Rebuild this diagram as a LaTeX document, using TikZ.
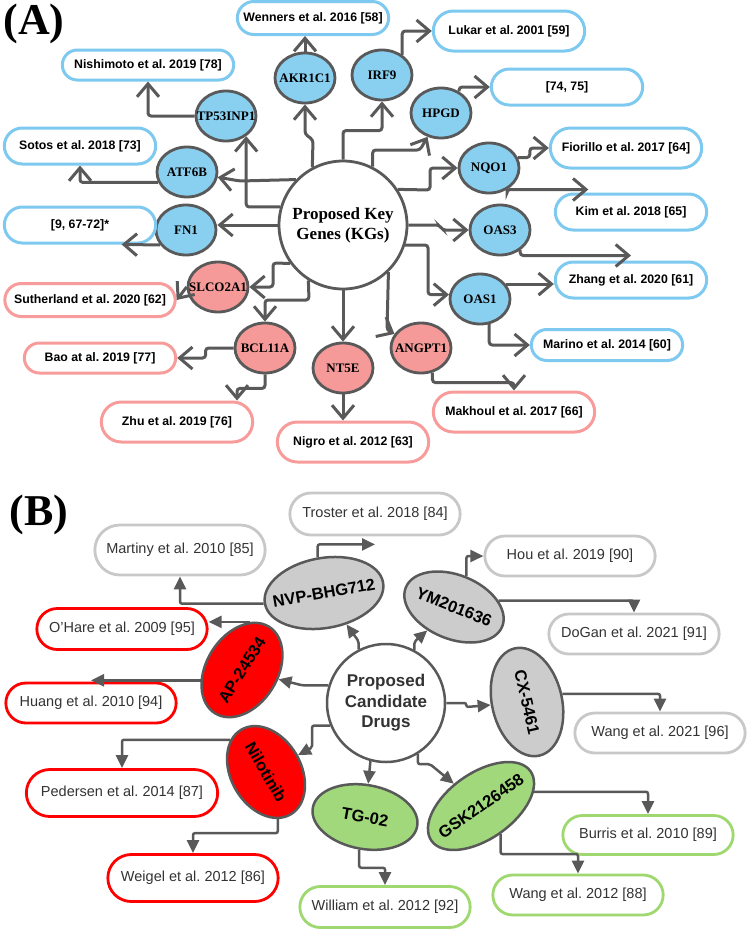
\documentclass[tikz,border=0pt]{standalone}
\usepackage{fontspec}
\setmainfont{Liberation Serif}
\setsansfont{Liberation Sans}
\frenchspacing
\usetikzlibrary{arrows.meta,shapes.geometric,shapes.misc,positioning}
\definecolor{kgblue}{HTML}{89CFF0}
\definecolor{kgpink}{HTML}{F59A98}
\definecolor{refblue}{HTML}{7DC9EF}
\definecolor{refpink}{HTML}{F79C9A}
\definecolor{edge}{HTML}{595959}
\definecolor{drgray}{HTML}{CCCCCC}
\definecolor{drred}{HTML}{FF0000}
\definecolor{drgreen}{HTML}{A0D87B}
\definecolor{refgray}{HTML}{C8C8C8}
\definecolor{refgreen}{HTML}{9ED86E}
\definecolor{txt}{HTML}{333333}
\begin{document}
\begin{tikzpicture}[x=1pt,y=-1pt,
panel/.style={font=\bfseries\fontsize{44}{44}\selectfont,inner sep=0pt},
hub/.style={circle,draw=edge,line width=2.8pt,fill=white,minimum size=128pt,inner sep=0pt,align=center,font=\bfseries\fontsize{17}{20}\selectfont},
hubd/.style={circle,draw=edge,line width=2.5pt,fill=white,minimum size=118pt,inner sep=0pt,align=center,text=txt,font=\sffamily\bfseries\fontsize{17}{20.5}\selectfont},
gene/.style={ellipse,draw=edge,line width=2.8pt,inner xsep=-9pt,inner ysep=0pt,minimum width=60pt,minimum height=50pt,font=\bfseries\fontsize{13}{15}\selectfont},
ref/.style={rounded rectangle,draw,line width=3pt,fill=white,minimum width=158pt,minimum height=36pt,font=\sffamily\bfseries\fontsize{12.3}{14}\selectfont},
drug/.style={ellipse,draw=edge,line width=2.5pt,inner xsep=-12pt,inner ysep=0pt,font=\sffamily\bfseries\fontsize{16.5}{18}\selectfont},
dref/.style={rounded rectangle,draw,line width=2.8pt,fill=white,minimum width=177pt,minimum height=40pt,text=txt,font=\sffamily\fontsize{14.5}{17}\selectfont},
link/.style={draw=edge,line width=3pt,rounded corners=3pt,-{Straight Barb[length=13pt,width=22pt]}},
dlink/.style={draw=edge,line width=2.5pt,rounded corners=2pt,-{Triangle[length=13pt,width=12pt]}}]
\useasboundingbox (0,0) rectangle (750,929);

\node[panel] (LA) at (34,24) {(A)};
\node[hub] (KG) at (343,225) {Proposed Key\\Genes (KGs)};
\node[gene,fill=kgblue] (AKR1C1) at (305,78) {AKR1C1};
\node[gene,fill=kgblue] (IRF9) at (382,75) {IRF9};
\node[gene,fill=kgblue] (TP53INP1) at (226,116) {TP53INP1};
\node[gene,fill=kgblue] (HPGD) at (441,113) {HPGD};
\node[gene,fill=kgblue] (ATF6B) at (187,172) {ATF6B};
\node[gene,fill=kgblue] (NQO1) at (489,168) {NQO1};
\node[gene,fill=kgblue] (FN1) at (186,230) {FN1};
\node[gene,fill=kgblue] (OAS3) at (500,230) {OAS3};
\node[gene,fill=kgblue] (OAS1) at (480,299) {OAS1};
\node[gene,fill=kgpink] (SLCO2A1) at (218,287) {SLCO2A1};
\node[gene,fill=kgpink] (BCL11A) at (265,348) {BCL11A};
\node[gene,fill=kgpink] (NT5E) at (343,368) {NT5E};
\node[gene,fill=kgpink] (ANGPT1) at (421,348) {ANGPT1};

\node[ref,draw=refblue,minimum height=33pt] (R58) at (313,18) {Wenners et al. 2016 [58]};
\node[ref,draw=refblue,minimum height=40pt] (R59) at (509,31) {Lukar et al. 2001 [59]};
\node[ref,draw=refblue,minimum width=178pt,minimum height=30pt] (R78) at (148,65) {Nishimoto et al. 2019 [78]};
\node[ref,draw=refblue] (R74) at (567,87) {[74, 75]};
\node[ref,draw=refblue] (R73) at (80,146) {Sotos et al. 2018 [73]};
\node[ref,draw=refblue,minimum height=40pt] (R64) at (626,148) {Fiorillo et al. 2017 [64]};
\node[ref,draw=refblue] (R67) at (80,225) {[9, 67-72]*};
\node[ref,draw=refblue] (R65) at (631,212) {Kim et al. 2018 [65]};
\node[ref,draw=refblue] (R61) at (631,280) {Zhang et al. 2020 [61]};
\node[ref,draw=refpink,minimum width=177pt,minimum height=33pt] (R62) at (90,300) {Sutherland et al. 2020 [62]};
\node[ref,draw=refblue,minimum height=31pt] (R60) at (607,345) {Marino et al. 2014 [60]};
\node[ref,draw=refpink,minimum height=30pt] (R77) at (100,358) {Bao at al. 2019 [77]};
\node[ref,draw=refpink,minimum width=168pt,minimum height=40pt] (R66) at (514,412) {Makhoul et al. 2017 [66]};
\node[ref,draw=refpink,minimum height=40pt] (R76) at (177,422) {Zhu et al. 2019 [76]};
\node[ref,draw=refpink,minimum height=40pt] (R63) at (353,442) {Nigro et al. 2012 [63]};

\draw[link] (KG.118) -- (313,140) -- (305,134) -- (AKR1C1);
\draw[link] (KG.north) -- ++(0,-29) -| (IRF9);
\draw[link] (KG.63) |- (420,150) -- (HPGD);
\draw[link] (KG.33) -- (430,190) |- (NQO1);
\draw[link] (KG.east) -- ++(31,0) -- ++(3,5) -- (OAS3);
\draw[link] (KG.-18) -- (428,245) |- (OAS1.172);
\draw[link] (KG.-46) -- (387,330) -- (ANGPT1);
\draw[link] (KG.south) -- (NT5E);
\draw[link] (KG.-122) -- (309,300) -| (BCL11A);
\draw[link] (KG.-144) -- (273,263) |- (SLCO2A1);
\draw[link] (KG.west) -- (KG.west -| FN1.east);
\draw[link] (KG.136) -- (240,181) -- (ATF6B);
\draw[link] (KG.164) -| (TP53INP1.-45);

\draw[link] (AKR1C1.north) -- (AKR1C1.north |- R58.south);
\draw[link] (IRF9.45) |- (R59);
\draw[link] (HPGD.50) |- (R74);
\draw[link] (NQO1.20) -- ++(12,0) |- (R64);
\draw[link] (NQO1.-50) |- ([xshift=15pt,yshift=3pt]R65.north west);
\draw[link] (OAS3.-45) |- ([yshift=5pt]R61.north);
\draw[link] (OAS1.30) -- (OAS1.30 -| R61.west);
\draw[link] (OAS1.-70) |- (R60);
\draw[link] (ANGPT1.-65) -- ++(0,10) -| (R66.north);
\draw[link] (NT5E.south) -- (NT5E.south |- R63.north);
\draw[link] (BCL11A.west) -- ++(-28,0) |- (R77);
\draw[link] (BCL11A.south) -- ++(0,14) -| ([xshift=60pt]R76.north);
\draw[link] (SLCO2A1.west) -- (R62.east);
\draw[link] (FN1.-150) -- ([xshift=-16pt]R67.south east);
\draw[link] (ATF6B.-160) -| (R73.south);
\draw[link] (TP53INP1.west) -| (R78.south);

\node[panel] (LB) at (39,515) {(B)};
\node[hubd] (KD) at (386,703) {Proposed\\Candidate\\Drugs};
\node[drug,fill=drgray,minimum width=120pt,minimum height=70pt,rotate=10] (NVP) at (324,593) {NVP-BHG712};
\node[drug,fill=drgray,minimum width=104pt,minimum height=64pt,rotate=-22] (YM) at (454,607) {YM201636};
\node[drug,fill=drred,minimum width=102pt,minimum height=71pt,rotate=58] (AP) at (242,670) {AP-24534};
\node[drug,fill=drred,minimum width=98pt,minimum height=70pt,rotate=-60] (NIL) at (266,772) {Nilotinib};
\node[drug,fill=drgray,minimum width=110pt,minimum height=70pt,rotate=-77] (CX) at (527,702) {CX-5461};
\node[drug,fill=drgreen,minimum width=106pt,minimum height=64pt,rotate=-10] (TG) at (365,817) {TG-02};
\node[drug,fill=drgreen,minimum width=121pt,minimum height=66pt,rotate=35] (GSK) at (481,806) {GSK2126458};

\node[dref,draw=refgray,minimum height=42pt] (R84) at (375,514) {Troster et al. 2018 [84]};
\node[dref,draw=refgray,minimum height=50pt] (R85) at (180,550) {Martiny et al. 2010 [85]};
\node[dref,draw=refgray] (R90) at (570,556) {Hou et al. 2019 [90]};
\node[dref,draw=refgray] (R91) at (634,634) {DoGan et al. 2021 [91]};
\node[dref,draw=drred,minimum height=41pt] (R95) at (122,629) {O'Hare et al. 2009 [95]};
\node[dref,draw=drred] (R94) at (91,703) {Huang et al. 2010 [94]};
\node[dref,draw=refgray] (R96) at (660,733) {Wang et al. 2021 [96]};
\node[dref,draw=drred,minimum width=198pt,minimum height=47pt] (R87) at (122,793) {Pedersen et al. 2014 [87]};
\node[dref,draw=refgreen,minimum height=39pt] (R89) at (648,835) {Burris et al. 2010 [89]};
\node[dref,draw=drred,minimum height=47pt] (R86) at (193,878) {Weigel et al. 2012 [86]};
\node[dref,draw=refgreen] (R88) at (578,895) {Wang et al. 2012 [88]};
\node[dref,draw=refgreen,minimum height=41pt] (R92) at (385,907) {William et al. 2012 [92]};

\draw[dlink] (KD.117) -- ++(0,-8) -- (NVP);
\draw[dlink] (KD.62) -- ++(0,-8) -- (YM);
\draw[dlink] (KD.163) -- ++(-26,0) -- (AP);
\draw[dlink] (KD.-158) -- ++(-18,0) -- ++(0,22) -- (NIL);
\draw[dlink] (KD.east) -- ++(20,0) -- ++(0,4) -- (CX);
\draw[dlink] (KD.-105) -- (TG);
\draw[dlink] (KD.-58) -- ++(0,10) -- ++(12,0) -- (GSK);

\draw[dlink] (NVP.north) |- ([yshift=-8pt]R84.south);
\draw[dlink] (NVP.west) -| (R85.south);
\draw[dlink] (YM.north) |- (R90);
\draw[dlink] (YM.30) -| (R91.north);
\draw[dlink] (AP.22) -- (AP.22 -| R95.east);
\draw[dlink] (AP.136) -- (AP.136 -| R94.north);
\draw[dlink] (NIL.198) -| (R87.north);
\draw[dlink] (NIL.-16) -- ++(0,14) -| (R86.north);
\draw[dlink] (TG.south) -- ++(0,18) -| (R92.north);
\draw[dlink] (CX.north) -| (R96.north);
\draw[dlink] (GSK.-20) -| (R89.north);
\draw[dlink] (GSK.south) -- ++(0,20) -| (R88.north);
\end{tikzpicture}
\end{document}
